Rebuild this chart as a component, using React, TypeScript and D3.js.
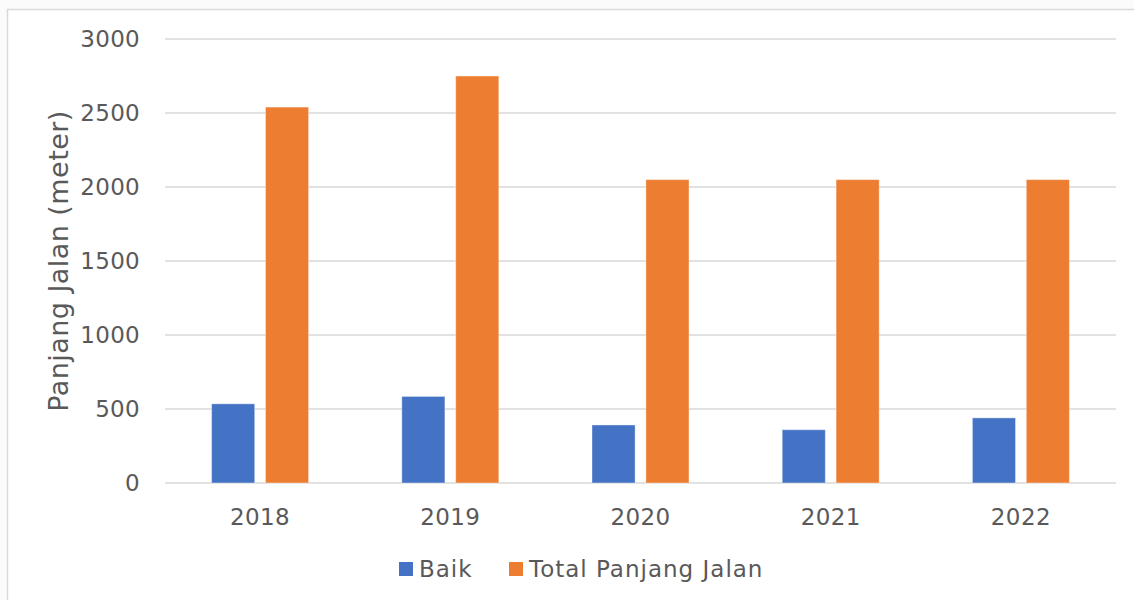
import React from "react";
import * as d3 from "d3";

const years = ["2018", "2019", "2020", "2021", "2022"];
const baik = [535, 585, 392, 360, 440];
const totalPanjang = [2540, 2750, 2050, 2050, 2050];
const seriesNames = ["Baik", "Total Panjang Jalan"];
const seriesColors = ["#4472C4", "#ED7D31"];
const yTicks = [0, 500, 1000, 1500, 2000, 2500, 3000];

const W = 1134;
const H = 600;
const plot = { left: 165, right: 1116, top: 39, bottom: 483 };
const font = "'DejaVu Sans', Verdana, sans-serif";
const textColor = "#595959";

export default function App() {
  const x0 = d3
    .scaleBand<string>()
    .domain(years)
    .range([plot.left, plot.right])
    .padding(0);

  // group of two bars takes ~51% of each category
  const groupW = x0.bandwidth() * 0.51;
  const x1 = d3
    .scaleBand<string>()
    .domain(seriesNames)
    .range([0, groupW])
    .paddingInner(0.2)
    .paddingOuter(0);

  const y = d3.scaleLinear().domain([0, 3000]).range([plot.bottom, plot.top]);

  const values = [baik, totalPanjang];

  return (
    <div style={{ position: "absolute", left: 0, top: 0 }}>
      <svg width={W} height={H} style={{ display: "block" }}>
        <rect x={0} y={0} width={W} height={H} fill="#fbfbfb" />
        <rect x={7.5} y={9.5} width={W + 10} height={H + 10} fill="#ffffff" stroke="#d9d9d9" strokeWidth={1.5} />

        {yTicks.map((t) => (
          <g key={t}>
            <line
              x1={plot.left}
              x2={plot.right}
              y1={y(t)}
              y2={y(t)}
              stroke="#d9d9d9"
              strokeWidth={1.5}
            />
            <text
              x={140}
              y={y(t)}
              dy="0.36em"
              textAnchor="end"
              fontFamily={font}
              fontSize={23}
              letterSpacing={0.3}
              fill={textColor}
            >
              {t}
            </text>
          </g>
        ))}

        {years.map((yr, i) => {
          const gx = x0(yr)! + (x0.bandwidth() - groupW) / 2;
          return (
            <g key={yr}>
              {seriesNames.map((s, j) => (
                <rect
                  key={s}
                  x={gx + x1(s)!}
                  y={y(values[j][i])}
                  width={x1.bandwidth()}
                  height={y(0) - y(values[j][i])}
                  fill={seriesColors[j]}
                  stroke="#ffffff"
                  strokeOpacity={0.4}
                  strokeWidth={1}
                />
              ))}
              <text
                x={x0(yr)! + x0.bandwidth() / 2}
                y={517}
                dy="0.36em"
                textAnchor="middle"
                fontFamily={font}
                fontSize={23}
                letterSpacing={0.4}
                fill={textColor}
              >
                {yr}
              </text>
            </g>
          );
        })}

        <text
          transform={`translate(58, ${(plot.top + plot.bottom) / 2}) rotate(-90)`}
          textAnchor="middle"
          dy="0.36em"
          fontFamily={font}
          fontSize={27}
          letterSpacing={0.45}
          fill={textColor}
        >
          Panjang Jalan (meter)
        </text>

        <g>
          <rect x={399} y={562} width={14} height={14} fill={seriesColors[0]} />
          <text x={419} y={569} dy="0.36em" fontFamily={font} fontSize={23} letterSpacing={1} fill={textColor}>
            {seriesNames[0]}
          </text>
          <rect x={509} y={562} width={14} height={14} fill={seriesColors[1]} />
          <text x={529} y={569} dy="0.36em" fontFamily={font} fontSize={23} letterSpacing={1} fill={textColor}>
            {seriesNames[1]}
          </text>
        </g>
      </svg>
    </div>
  );
}
